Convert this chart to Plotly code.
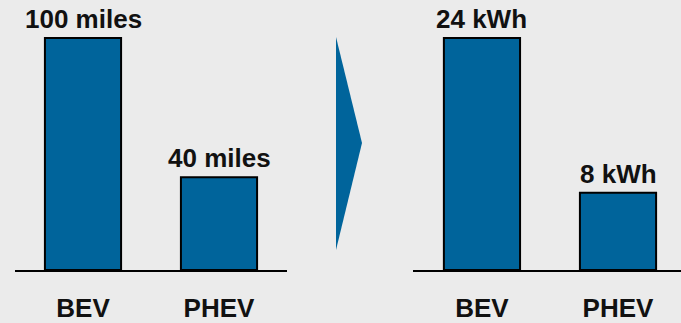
import plotly.graph_objects as go

# Vehicle types and the two quantities compared
categories = ["BEV", "PHEV"]
range_miles = [100, 40]
battery_kwh = [24, 8]

W, H = 681, 323
BAR_COLOR = "#00649b"
BG = "#ebebeb"
FONT = dict(family="Liberation Sans, Arial, sans-serif", size=26, color="#111111", weight="bold")

fig = go.Figure()

fig.add_trace(go.Bar(
    x=categories, y=range_miles, xaxis="x", yaxis="y",
    width=0.56, marker=dict(color=BAR_COLOR, line=dict(color="black", width=2)),
    hoverinfo="skip", showlegend=False,
))
fig.add_trace(go.Bar(
    x=categories, y=battery_kwh, xaxis="x2", yaxis="y2",
    width=0.56, marker=dict(color=BAR_COLOR, line=dict(color="black", width=2)),
    hoverinfo="skip", showlegend=False,
))

# Value labels above each bar
for c, v in zip(categories, range_miles):
    fig.add_annotation(x=c, y=v, xref="x", yref="y", text=f"{v} miles",
                       showarrow=False, yanchor="bottom", yshift=2, font=FONT)
for c, v in zip(categories, battery_kwh):
    fig.add_annotation(x=c, y=v, xref="x2", yref="y2", text=f"{v} kWh",
                       showarrow=False, yanchor="bottom", yshift=2, font=FONT)

base = 53 / H
axis_common = dict(showgrid=False, zeroline=False, showline=True, linecolor="black",
                   linewidth=2, ticks="", tickfont=FONT, ticklabelstandoff=14,
                   fixedrange=True, automargin=False)
yaxis_common = dict(showgrid=False, zeroline=False, showline=False,
                    showticklabels=False, fixedrange=True, automargin=False)

fig.update_layout(
    template="none",
    width=W, height=H,
    margin=dict(l=0, r=0, t=0, b=0, pad=0),
    paper_bgcolor=BG, plot_bgcolor=BG,
    xaxis=dict(domain=[15 / W, 287 / W], range=[-0.5, 1.5], anchor="y", **axis_common),
    yaxis=dict(domain=[base, 1], range=[0, 270 / 2.32], anchor="x", **yaxis_common),
    xaxis2=dict(domain=[413 / W, 1], range=[-0.507, 1.463], anchor="y2", **axis_common),
    yaxis2=dict(domain=[base, 1], range=[0, 270 / 9.667], anchor="x2", **yaxis_common),
    shapes=[dict(
        type="path", xref="paper", yref="paper",
        path=f"M {336 / W} {1 - 37 / H} L {362 / W} {1 - 143 / H} L {336 / W} {1 - 250 / H} Z",
        fillcolor=BAR_COLOR, line=dict(width=0),
    )],
)

fig.write_html("out.html")
